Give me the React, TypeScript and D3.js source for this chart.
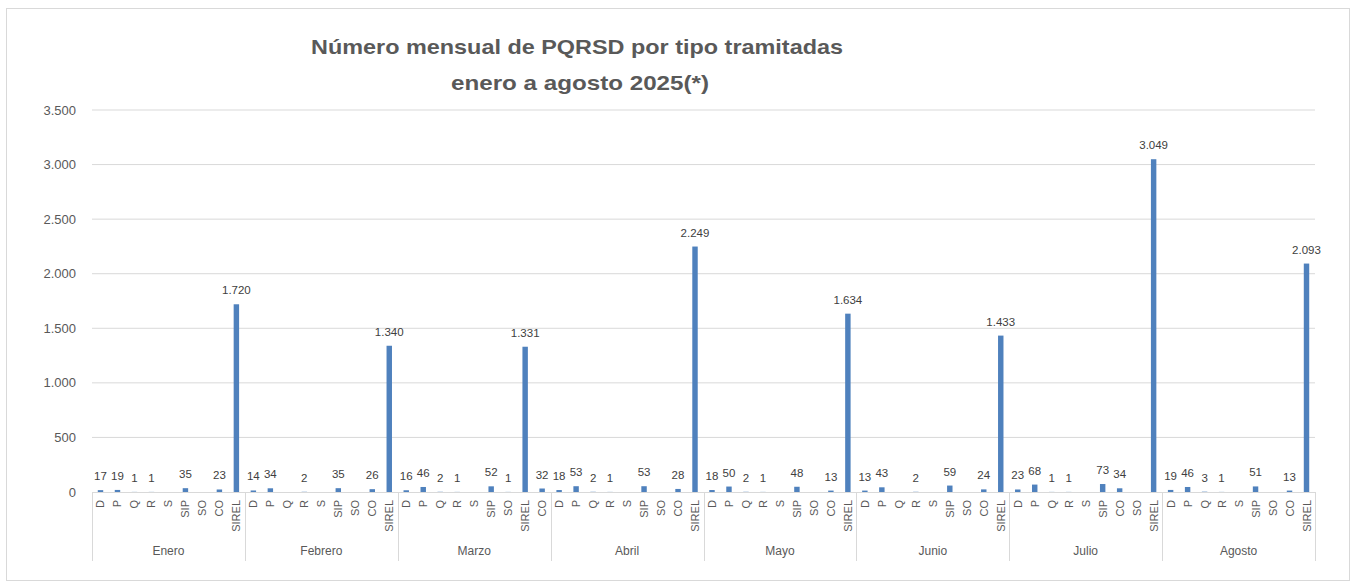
import React from 'react';
import * as d3 from 'd3';

const months = ['Enero', 'Febrero', 'Marzo', 'Abril', 'Mayo', 'Junio', 'Julio', 'Agosto'];

// category order as shown under each month (Marzo and Julio differ)
const catsEnero = ['D', 'P', 'Q', 'R', 'S', 'SIP', 'SO', 'CO', 'SIREL'];
const catsMarzo = ['D', 'P', 'Q', 'R', 'S', 'SIP', 'SO', 'SIREL', 'CO'];
const catsJulio = ['D', 'P', 'Q', 'R', 'S', 'SIP', 'CO', 'SO', 'SIREL'];

// null = no label / empty
const enero = [17, 19, 1, 1, null, 35, null, 23, 1720];
const febrero = [14, 34, null, 2, null, 35, null, 26, 1340];
const marzo = [16, 46, 2, 1, null, 52, 1, 1331, 32];
const abril = [18, 53, 2, 1, null, 53, null, 28, 2249];
const mayo = [18, 50, 2, 1, null, 48, null, 13, 1634];
const junio = [13, 43, null, 2, null, 59, null, 24, 1433];
const julio = [23, 68, 1, 1, null, 73, 34, null, 3049];
const agosto = [19, 46, 3, 1, null, 51, null, 13, 2093];

const yTicks = [0, 500, 1000, 1500, 2000, 2500, 3000, 3500];

const monthCats = [catsEnero, catsEnero, catsMarzo, catsEnero, catsEnero, catsEnero, catsJulio, catsEnero];
const monthValues = [enero, febrero, marzo, abril, mayo, junio, julio, agosto];

const fmt = (v: number) => d3.format(',')(v).replace(/,/g, '.');

const App = () => {
  const Width = 1356;
  const Height = 583;
  const left = 92;
  const right = 1315;
  const top = 110;
  const bottom = 492;

  const xMonth = d3.scaleBand().domain(months).range([left, right]).padding(0);
  const xCat = d3.scaleBand<number>().domain(d3.range(9)).range([0, xMonth.bandwidth()]).paddingInner(0.68).paddingOuter(0.34);
  const yScale = d3.scaleLinear().domain([0, 3500]).range([bottom, top]);

  const textColor = '#595959';
  const font = '"Liberation Sans", Arial, sans-serif';

  return (
    <svg width={Width} height={Height} style={{ position: 'absolute', left: 0, top: 0, background: '#fff' }}>
      <rect x={6.5} y={8.5} width={1343} height={572} fill="#fff" stroke="#d9d9d9" />

      <text x={577} y={54} textAnchor="middle" fontFamily={font} fontWeight="bold" fontSize={21} fill={textColor} textLength={532} lengthAdjust="spacingAndGlyphs">
        Número mensual de PQRSD por tipo tramitadas
      </text>
      <text x={580} y={90} textAnchor="middle" fontFamily={font} fontWeight="bold" fontSize={21} fill={textColor} textLength={258} lengthAdjust="spacingAndGlyphs">
        enero a agosto 2025(*)
      </text>

      {yTicks.map((t) => (
        <g key={t}>
          {t > 0 && <line x1={left} x2={right} y1={yScale(t)} y2={yScale(t)} stroke="#d9d9d9" strokeWidth={1} />}
          <text x={76} y={yScale(t)} dy="0.35em" textAnchor="end" fontFamily={font} fontSize={13} fill={textColor}>
            {fmt(t)}
          </text>
        </g>
      ))}

      {months.map((m, mi) => {
        const x0 = xMonth(m)!;
        return (
          <g key={m} transform={`translate(${x0},0)`}>
            {monthValues[mi].map((v, ci) => {
              const cx = xCat(ci)! + xCat.bandwidth() / 2;
              return (
                <g key={ci}>
                  {v != null && (
                    <rect x={xCat(ci)} y={yScale(v)} width={xCat.bandwidth()} height={bottom - yScale(v)} fill="#4f81bd" />
                  )}
                  {v != null && (
                    <text x={cx} y={yScale(v) - 10} textAnchor="middle" fontFamily={font} fontSize={11.5} fill="#404040">
                      {fmt(v)}
                    </text>
                  )}
                  <text
                    transform={`translate(${cx + 4},${500}) rotate(-90)`}
                    textAnchor="end"
                    fontFamily={font}
                    fontSize={11}
                    fill={textColor}
                  >
                    {monthCats[mi][ci]}
                  </text>
                </g>
              );
            })}
            <text x={xMonth.bandwidth() / 2} y={555} textAnchor="middle" fontFamily={font} fontSize={12} fill={textColor}>
              {m}
            </text>
          </g>
        );
      })}

      <line x1={left} x2={right} y1={bottom + 0.5} y2={bottom + 0.5} stroke="#d9d9d9" />
      {[...months.map((m) => xMonth(m)!), right].map((x, i) => (
        <line key={i} x1={Math.round(x) + 0.5} x2={Math.round(x) + 0.5} y1={bottom} y2={561} stroke="#d9d9d9" />
      ))}
    </svg>
  );
};

export default App;
